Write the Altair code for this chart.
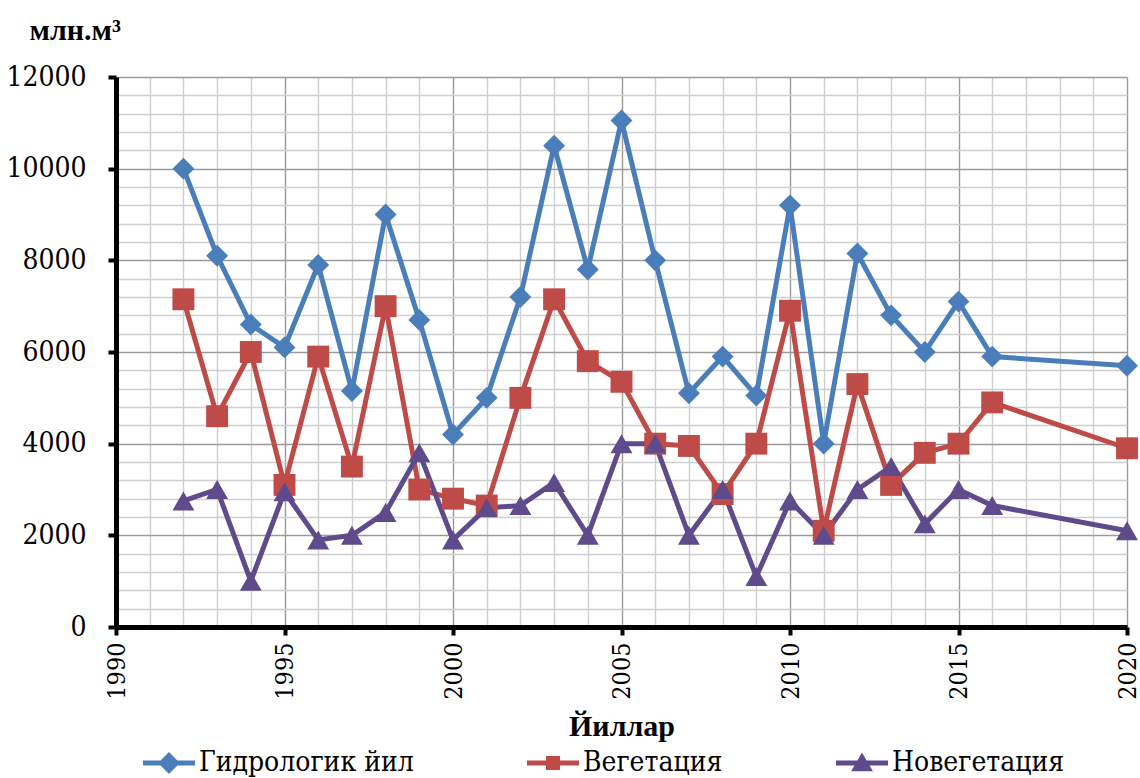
import altair as alt
import pandas as pd

years = [1992, 1993, 1994, 1995, 1996, 1997, 1998, 1999, 2000, 2001, 2002, 2003, 2004,
         2005, 2006, 2007, 2008, 2009, 2010, 2011, 2012, 2013, 2014, 2015, 2016, 2020]
hydro = [10000, 8100, 6600, 6100, 7900, 5150, 9000, 6700, 4200, 5000, 7200, 10500, 7800,
         11050, 8000, 5100, 5900, 5050, 9200, 4000, 8150, 6800, 6000, 7100, 5900, 5700]
veg = [7150, 4600, 6000, 3100, 5900, 3500, 7000, 3000, 2800, 2650, 5000, 7150, 5800,
       5350, 4000, 3950, 2900, 4000, 6900, 2100, 5300, 3100, 3800, 4000, 4900, 3900]
noveg = [2750, 3000, 1000, 2950, 1900, 2000, 2500, 3800, 1900, 2600, 2650, 3150, 2000,
         4000, 4000, 2000, 3000, 1100, 2750, 2000, 3000, 3500, 2250, 3000, 2650, 2100]

series_names = ["Гидрологик йил", "Вегетация", "Новегетация"]
colors = ["#4A7EBB", "#BE4B48", "#5F4B8B"]
marker_shapes = ["diamond", "square", "triangle-up"]
legend_paths = [
    "M-1,-0.1H1V0.1H-1Z M-0.42,0L0,-0.42L0.42,0L0,0.42Z",
    "M-1,-0.1H1V0.1H-1Z M-0.27,-0.27H0.27V0.27H-0.27Z",
    "M-1,-0.1H1V0.1H-1Z M0,-0.4L0.42,0.32L-0.42,0.32Z",
]

rows = []
for name, vals in zip(series_names, [hydro, veg, noveg]):
    for yr, v in zip(years, vals):
        rows.append({"year": yr, "value": v, "series": name})
df = pd.DataFrame(rows)

FONT = "DejaVu Serif Condensed"
BOLD_FONT = "'Liberation Serif'"

x_enc = alt.X(
    "year:Q",
    scale=alt.Scale(domain=[1990, 2020], nice=False, zero=False),
    axis=alt.Axis(
        values=list(range(1990, 2021)),
        tickCount=100,
        format="d",
        labelExpr="datum.value % 5 === 0 ? datum.label : ''",
        labelAngle=-90,
        labelFont=FONT,
        labelFontSize=25,
        labelColor="black",
        labelPadding=7,
        labelOverlap=False,
        labelFlush=False,
        grid=True,
        gridColor={"condition": {"test": "datum.value % 5 === 0", "value": "#9a9a9a"}, "value": "#cfcfcf"},
        gridWidth=1.4,
        domainColor="black",
        domainWidth=5,
        tickColor="black",
        tickWidth=4,
        tickSize=8,
        tickOpacity={"condition": {"test": "datum.value % 5 === 0", "value": 1}, "value": 0},
        title="Йиллар",
        titleFont=BOLD_FONT,
        titleFontSize=30,
        titleFontWeight="bold",
        titleColor="black",
        titlePadding=12,
    ),
)

y_enc = alt.Y(
    "value:Q",
    scale=alt.Scale(domain=[0, 12000], nice=False),
    axis=alt.Axis(
        values=list(range(0, 12001, 400)),
        tickCount=100,
        format="d",
        labelExpr="datum.value % 2000 === 0 ? datum.label : ''",
        labelFont=FONT,
        labelFontSize=28,
        labelColor="black",
        labelPadding=22,
        labelOverlap=False,
        labelFlush=False,
        grid=True,
        gridColor={"condition": {"test": "datum.value % 2000 === 0", "value": "#9a9a9a"}, "value": "#cfcfcf"},
        gridWidth=1.4,
        domainColor="black",
        domainWidth=5,
        tickColor="black",
        tickWidth=4,
        tickSize=8,
        tickOpacity={"condition": {"test": "datum.value % 2000 === 0", "value": 1}, "value": 0},
        title="млн.м³",
        titleFont=BOLD_FONT,
        titleFontSize=30,
        titleFontWeight="bold",
        titleColor="black",
        titleAngle=0,
        titleAlign="left",
        titleBaseline="alphabetic",
        titleX=-87,
        titleY=-38,
    ),
)

color_scale = alt.Scale(domain=series_names, range=colors)

base = alt.Chart(df).encode(
    x=x_enc,
    y=y_enc,
    color=alt.Color("series:N", scale=color_scale, legend=None),
    detail="series:N",
)

lines = base.mark_line(strokeWidth=5)
points = base.mark_point(filled=True, size=480, opacity=1).encode(
    shape=alt.Shape("series:N", scale=alt.Scale(domain=series_names, range=marker_shapes), legend=None)
)

legend_def = alt.Legend(
    title=None,
    orient="none",
    direction="horizontal",
    legendX=27,
    legendY=660,
    symbolSize=2704,
    symbolOpacity=1,
    symbolStrokeWidth=0,
    labelFont=FONT,
    labelFontSize=28,
    labelColor="black",
    labelOffset=4,
    labelLimit=500,
    columnPadding=113,
    values=series_names,
)

legend_layer = alt.Chart(df).mark_point(filled=True, opacity=0).encode(
    x=alt.X("year:Q"),
    y=alt.Y("value:Q"),
    color=alt.Color("series:N", scale=alt.Scale(domain=series_names, range=colors), legend=legend_def),
    shape=alt.Shape("series:N", scale=alt.Scale(domain=series_names, range=legend_paths), legend=legend_def),
)

chart = (
    alt.layer(lines, points, legend_layer)
    .resolve_scale(color="independent", shape="independent")
    .properties(
        width=1011,
        height=550,
        autosize=alt.AutoSizeParams(type="none"),
        padding={"left": 116, "top": 77, "right": 13, "bottom": 151},
        background="white",
    )
    .configure_view(stroke=None)
)

chart.save("out.html", embed_options={"renderer": "svg", "actions": False})
